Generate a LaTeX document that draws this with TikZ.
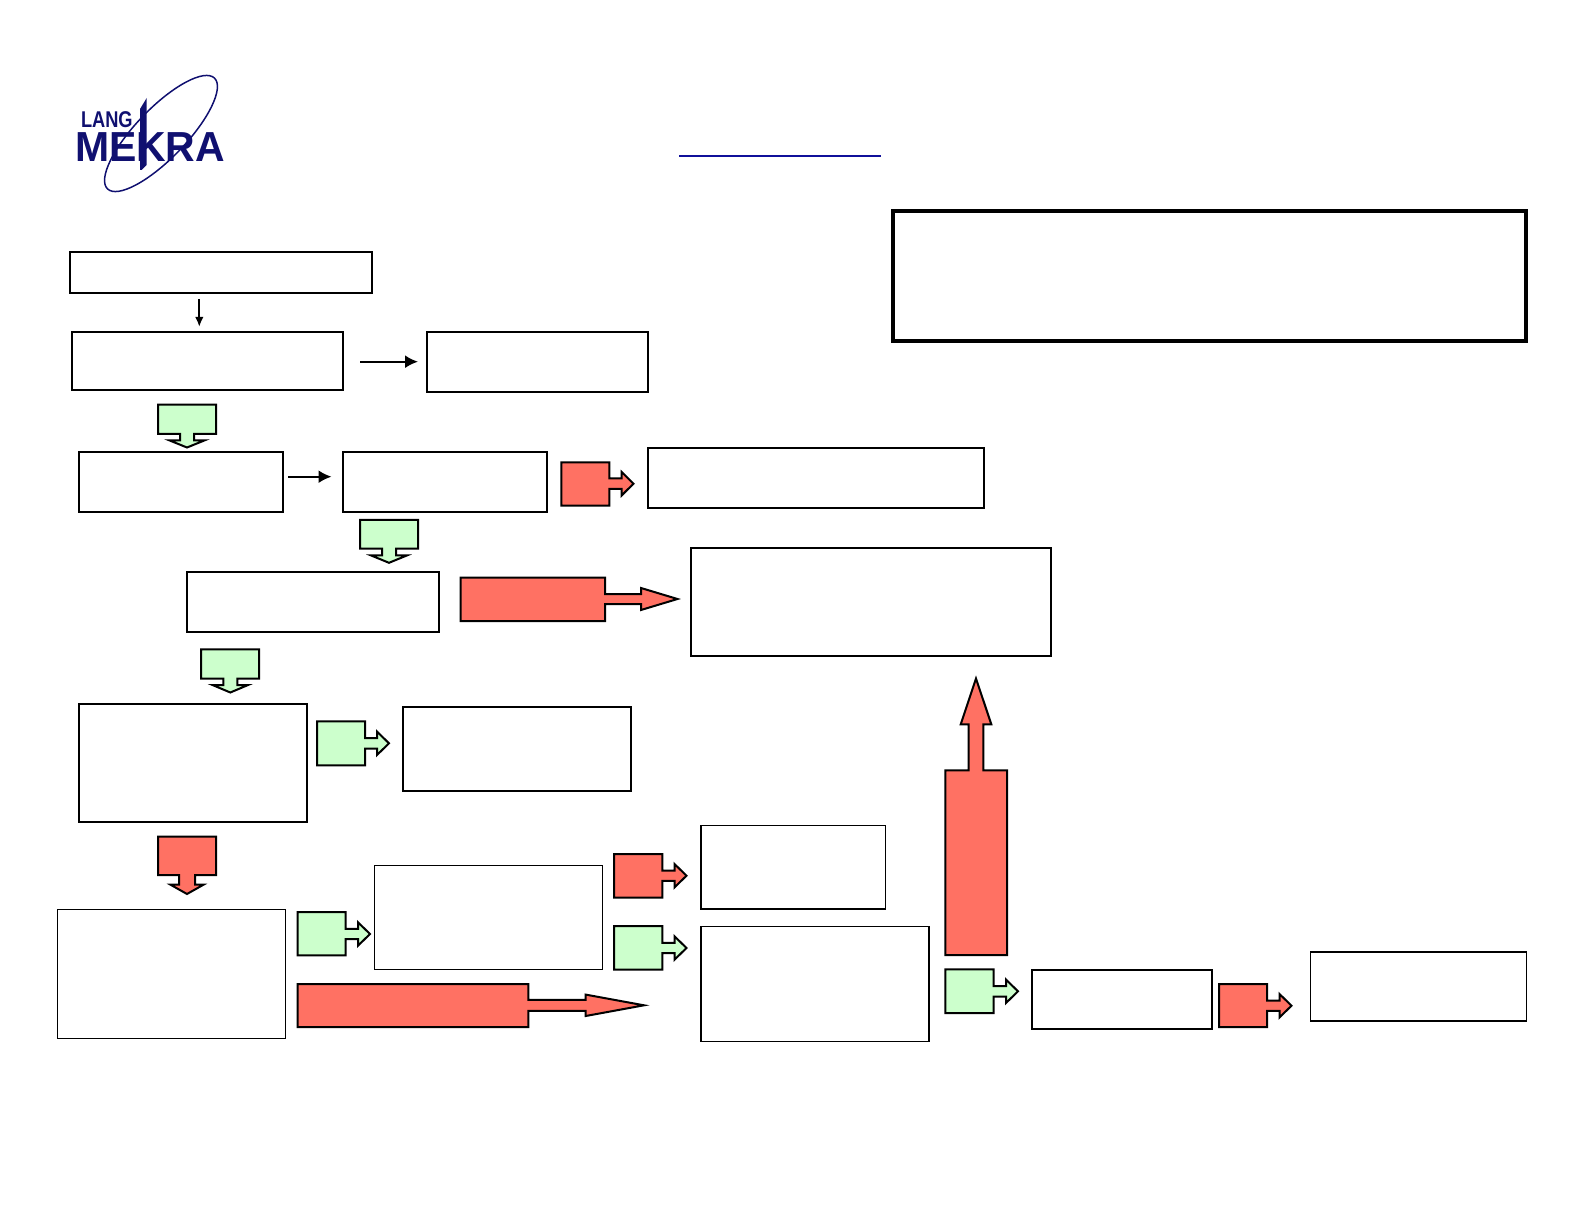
\documentclass[tikz,border=0pt]{standalone}
\usepackage{fontspec}
\setmainfont{Liberation Sans}
\usetikzlibrary{arrows.meta}
\definecolor{calloutgreen}{HTML}{CCFFCC}
\definecolor{calloutred}{HTML}{FF7163}
\definecolor{logoblue}{HTML}{101070}
\definecolor{linkblue}{HTML}{10109A}
\tikzset{
  boxbase/.style={draw=black,fill=white,rectangle,inner sep=0pt,outer sep=0pt,anchor=north west},
  boxthick/.style={boxbase,line width=1pt},
  boxthin/.style={boxbase,line width=0.6pt},
  boxheavy/.style={boxbase,line width=2pt},
  greencall/.style={draw=black,fill=calloutgreen,line width=1pt,miter limit=20},
  redcall/.style={draw=black,fill=calloutred,line width=1pt,miter limit=20},
  smallarrow/.style={draw=black,line width=1pt,-{Latex[length=5pt,width=4.2pt]}},
  largearrow/.style={draw=black,line width=1pt,-{Latex[length=6.5pt,width=6.5pt]}}
}
% box: style, name, x0, y0, x1, y1
\newcommand{\bx}[6]{\node[#1,minimum width={(#5-#3)*0.5pt},minimum height={(#6-#4)*0.5pt}] (#2) at (#3,#4) {};}
\def\sh{5.2}\def\hh{11.7}
% right callout: style, x0, x1, y0, y1, cy, head x, tip x
\newcommand{\callR}[8]{\draw[#1] (#2,#4) -- (#3,#4) -- (#3,{#6-\sh}) -- (#7,{#6-\sh}) -- (#7,{#6-\hh}) -- (#8,#6) -- (#7,{#6+\hh}) -- (#7,{#6+\sh}) -- (#3,{#6+\sh}) -- (#3,#5) -- (#2,#5) -- cycle;}
% down callout: style, x0, x1, y0, y1, cx, head y, tip y
\newcommand{\callD}[8]{\draw[#1] (#2,#4) -- (#3,#4) -- (#3,#5) -- ({#6+\sh},#5) -- ({#6+\sh},#7) -- ({#6+\hh},#7) -- (#6,#8) -- ({#6-\hh},#7) -- ({#6-\sh},#7) -- ({#6-\sh},#5) -- (#2,#5) -- cycle;}
\begin{document}
\begin{tikzpicture}[x=0.5pt,y=-0.5pt]
\useasboundingbox (0,0) rectangle (1584,1224);
% logo
\draw[logoblue,line width=0.75pt,rotate around={46:(161,133.5)}] (161,133.5) ellipse [x radius=77,y radius=25];
\node[anchor=base west,inner sep=0pt,outer sep=0pt,text height=8.3pt,text depth=0pt,text=logoblue,font=\bfseries\fontsize{11.4}{12}\selectfont,xscale=0.8] (lang) at (81,127.5) {LANG};
\node[anchor=base west,inner sep=0pt,outer sep=0pt,text height=15pt,text depth=0pt,text=logoblue,font=\bfseries\fontsize{21}{22}\selectfont,xscale=0.975] (mekra) at (75,161.7) {MEKRA};
\fill[logoblue] (140,109) -- (146.7,98) -- (146.7,165) -- (141.5,170) -- (140,170) -- cycle;
% link underline
\coordinate (ula) at (679,156.3);
\coordinate (ulb) at (880.7,156.3);
\draw[linkblue,line width=0.8pt] (ula) -- (ulb);
% boxes
\bx{boxthick}{a}{69.8}{252}{372}{293}
\bx{boxthick}{b}{71.7}{332}{343}{390}
\bx{boxthick}{c}{426.7}{332}{648}{392}
\bx{boxthick}{d}{79}{452}{283}{512}
\bx{boxthick}{e}{343}{452}{547.3}{511.7}
\bx{boxthick}{f}{647.7}{447.7}{984}{508.3}
\bx{boxthick}{g}{187}{571.7}{439.3}{632}
\bx{boxthick}{h}{691}{548.5}{1051}{656}
\bx{boxthick}{i}{79}{703.7}{307}{822.3}
\bx{boxthick}{j}{402.7}{706.7}{631}{791}
\bx{boxthin}{k}{701}{825.5}{885.5}{909}
\bx{boxthin}{l}{374.7}{865.3}{602.3}{969.3}
\bx{boxthin}{m}{57.3}{909.3}{285.3}{1038.3}
\bx{boxthin}{n}{701}{926.3}{929}{1041.3}
\bx{boxthick}{o}{1031.7}{969.8}{1212.3}{1029.3}
\bx{boxthin}{p}{1310.7}{952}{1526.5}{1021}
\bx{boxheavy}{q}{892.5}{211}{1526}{341}
% plain arrows
\coordinate (a1) at (199.3,299);
\coordinate (a2) at (199.3,327);
\draw[smallarrow] (a1) -- (a2);
\coordinate (b1) at (360,361.7);
\coordinate (b2) at (418,361.7);
\draw[largearrow] (b1) -- (b2);
\coordinate (d1) at (288,476.7);
\coordinate (d2) at (331.5,476.7);
\draw[largearrow] (d1) -- (d2);
% down callouts
\def\sh{7}\def\hh{17.8}
\callD{greencall}{158}{216}{404.7}{434}{187}{440.3}{447.5}
\callD{greencall}{360}{418}{520}{548.7}{389}{555.5}{562.8}
\callD{greencall}{201}{259}{649.3}{678.7}{230.3}{685}{692.5}
\def\sh{8}\def\hh{16.5}
\callD{redcall}{158}{216}{836.7}{875}{187}{884.7}{894}
% right callouts
\def\sh{5.2}\def\hh{11.7}
\callR{redcall}{561.3}{609.3}{462.3}{505.7}{483.7}{621.7}{633.5}
\callR{greencall}{317}{365}{721.3}{765.3}{743.3}{377}{389}
\callR{greencall}{297.7}{345.7}{912}{955.3}{934}{358}{370}
\callR{redcall}{614}{662.3}{854}{897.7}{875.7}{674.5}{686.5}
\callR{greencall}{614}{662.3}{926}{969.7}{948}{674.5}{686.5}
\callR{greencall}{945.3}{993.7}{969.3}{1013}{991.3}{1006}{1018}
\callR{redcall}{1219}{1267}{984}{1027}{1005.7}{1279.5}{1291.5}
% long right callouts
\def\sh{5}\def\hh{11}
\callR{redcall}{460.7}{605}{577.5}{621}{599}{641}{677.5}
\def\sh{5.5}\def\hh{10.7}
\callR{redcall}{297.7}{528.3}{984}{1027}{1005.3}{585.7}{644}
% tall up callout
\def\sh{7.3}\def\hh{15.3}
\draw[redcall] (945.3,955) -- (945.3,770.3) -- ({976-\sh},770.3) -- ({976-\sh},724.3) -- ({976-\hh},724.3) -- (976,678.5) -- ({976+\hh},724.3) -- ({976+\sh},724.3) -- ({976+\sh},770.3) -- (1007,770.3) -- (1007,955) -- cycle;
\end{tikzpicture}
\end{document}
